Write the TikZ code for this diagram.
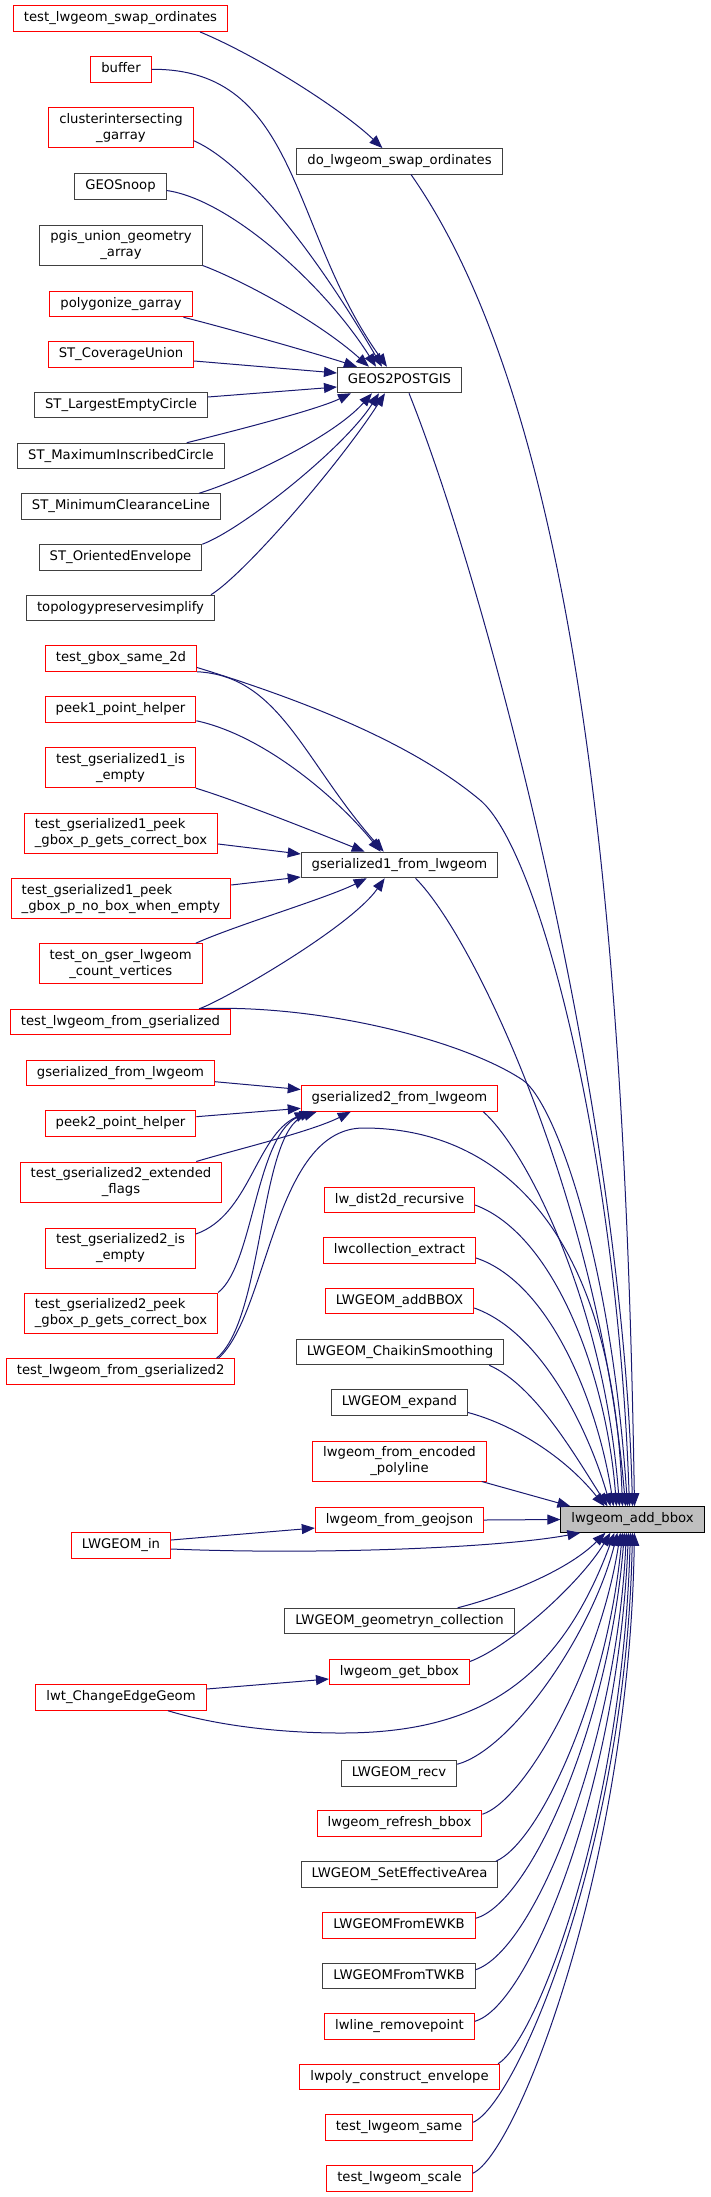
\documentclass[tikz,border=0pt]{standalone}
\usepackage{fontspec}
\setmainfont{DejaVu Sans}
\usepackage{tikz}
\usetikzlibrary{arrows.meta}
\definecolor{edgeblue}{HTML}{191970}
\definecolor{nodegrey}{HTML}{404040}
\definecolor{nodered}{HTML}{FF0000}
\definecolor{selgrey}{HTML}{BFBFBF}
\begin{document}
\begin{tikzpicture}[x=1pt,y=-1pt,>={Triangle[length=13pt,width=10pt]},
  fnbase/.style={draw=nodegrey,line width=1pt,fill=white,font=\fontsize{13.2}{15.7}\selectfont,inner xsep=10.5pt,inner ysep=5.5pt},
  fn/.style={fnbase,text height=9.5pt,text depth=3pt,inner ysep=6.5pt},
  fntwo/.style={fnbase,align=center,minimum height=40pt},
  fnleft/.style={fnbase,align=left,minimum height=40pt},
  trunc/.style={draw=nodered},
  call/.style={->,draw=edgeblue,fill=none,line width=1pt}]
  \useasboundingbox (0,0) rectangle (711,2197);

  \node[fn,trunc]     (tlso)           at (120.5,18.7)  {test\_lwgeom\_swap\_ordinates};
  \node[fn,trunc]     (buffer)         at (121,69.3)    {buffer};
  \node[fntwo,trunc]  (cluster)        at (121,127.7)   {clusterintersecting\\\_garray};
  \node[fn]           (geosnoop)       at (120.5,186.5) {GEOSnoop};
  \node[fntwo]        (pgis)           at (121,245)     {pgis\_union\_geometry\\\_array};
  \node[fn,trunc]     (polygonize)     at (121,304)     {polygonize\_garray};
  \node[fn,trunc]     (coverage)       at (121,354.5)   {ST\_CoverageUnion};
  \node[fn]           (largest)        at (121,405)     {ST\_LargestEmptyCircle};
  \node[fn]           (maxins)         at (121,456)     {ST\_MaximumInscribedCircle};
  \node[fn]           (minclear)       at (121,506.5)   {ST\_MinimumClearanceLine};
  \node[fn]           (oriented)       at (120.5,557.5) {ST\_OrientedEnvelope};
  \node[fn]           (topo)           at (120.5,608)   {topologypreservesimplify};
  \node[fn,trunc]     (gboxsame)       at (121,658.5)   {test\_gbox\_same\_2d};
  \node[fn,trunc]     (peek1)          at (120.5,709.5) {peek1\_point\_helper};
  \node[fntwo,trunc]  (gs1empty)       at (120.5,767.7) {test\_gserialized1\_is\\\_empty};
  \node[fnleft,trunc] (gs1peekcorrect) at (121,833)     {test\_gserialized1\_peek\\\_gbox\_p\_gets\_correct\_box};
  \node[fnleft,trunc] (nobox)          at (121,898.7)   {test\_gserialized1\_peek\\\_gbox\_p\_no\_box\_when\_empty};
  \node[fntwo,trunc]  (ongser)         at (120.7,963.7) {test\_on\_gser\_lwgeom\\\_count\_vertices};
  \node[fn,trunc]     (lwfromgs)       at (120.5,1022)  {test\_lwgeom\_from\_gserialized};
  \node[fn,trunc]     (gsfromlw)       at (120.5,1073)  {gserialized\_from\_lwgeom};
  \node[fn,trunc]     (peek2)          at (120.5,1123.5) {peek2\_point\_helper};
  \node[fntwo,trunc]  (gs2flags)       at (121,1182)    {test\_gserialized2\_extended\\\_flags};
  \node[fntwo,trunc]  (gs2empty)       at (120.5,1248)  {test\_gserialized2\_is\\\_empty};
  \node[fnleft,trunc] (gs2peek)        at (121,1313)    {test\_gserialized2\_peek\\\_gbox\_p\_gets\_correct\_box};
  \node[fn,trunc]     (lwfromgs2)      at (120.7,1371.5) {test\_lwgeom\_from\_gserialized2};
  \node[fn,trunc]     (lwgeomin)       at (121,1545.5)  {LWGEOM\_in};
  \node[fn,trunc]     (changeedge)     at (121,1697.5)  {lwt\_ChangeEdgeGeom};

  \node[fn]           (doswap)      at (399.5,161.3)  {do\_lwgeom\_swap\_ordinates};
  \node[fn]           (geos)        at (399.5,380)    {GEOS2POSTGIS};
  \node[fn]           (gs1from)     at (399.5,865)    {gserialized1\_from\_lwgeom};
  \node[fn,trunc]     (gs2from)     at (399.5,1098.5) {gserialized2\_from\_lwgeom};
  \node[fn,trunc]     (lwdist)      at (399.5,1200)   {lw\_dist2d\_recursive};
  \node[fn,trunc]     (lwcoll)      at (399.5,1250.5) {lwcollection\_extract};
  \node[fn,trunc]     (lwaddbbox)   at (399.5,1301)   {LWGEOM\_addBBOX};
  \node[fn]           (chaikin)     at (400,1352)     {LWGEOM\_ChaikinSmoothing};
  \node[fn]           (expand)      at (399.5,1402.5) {LWGEOM\_expand};
  \node[fntwo,trunc]  (encpoly)     at (399.5,1461)   {lwgeom\_from\_encoded\\\_polyline};
  \node[fn,trunc]     (geojson)     at (399.5,1520)   {lwgeom\_from\_geojson};
  \node[fn]           (geomn)       at (399.5,1621)   {LWGEOM\_geometryn\_collection};
  \node[fn,trunc]     (getbbox)     at (399.5,1672)   {lwgeom\_get\_bbox};
  \node[fn]           (recv)        at (399,1773.5)   {LWGEOM\_recv};
  \node[fn,trunc]     (refresh)     at (399.5,1823.5) {lwgeom\_refresh\_bbox};
  \node[fn]           (setarea)     at (399.5,1874.5) {LWGEOM\_SetEffectiveArea};
  \node[fn,trunc]     (ewkb)        at (399,1925.5)   {LWGEOMFromEWKB};
  \node[fn]           (twkb)        at (399,1976)     {LWGEOMFromTWKB};
  \node[fn,trunc]     (removepoint) at (399.5,2026.5) {lwline\_removepoint};
  \node[fn,trunc]     (polyenv)     at (399.5,2077)   {lwpoly\_construct\_envelope};
  \node[fn,trunc]     (same)        at (399,2127.5)   {test\_lwgeom\_same};
  \node[fn,trunc]     (scale)       at (399.5,2178.5) {test\_lwgeom\_scale};

  \node[fn,draw=black,fill=selgrey] (bbox) at (632.5,1519.5) {lwgeom\_add\_bbox};

  \draw[call] ([xshift=-28pt]tlso.south east) .. controls +(60,25) and +(-40,-38) .. ([xshift=86pt]doswap.north west);
  \draw[call] ([xshift=11.5pt]doswap.south) .. controls +(180,257) and +(-8,-500) .. ([xshift=2pt]bbox.north);
  \draw[call] (buffer.east) .. controls +(148,-1) and +(-98,-137) .. ([xshift=50pt]geos.north west);
  \draw[call] ([yshift=-13pt]cluster.east) .. controls +(50,22) and +(-70,-120) .. ([xshift=45pt]geos.north west);
  \draw[call] ([yshift=-4pt]geosnoop.east) .. controls +(64,9) and +(-50,-80) .. ([xshift=39pt]geos.north west);
  \draw[call] (pgis.south east) .. controls +(40,15) and +(-50,-45) .. ([xshift=32pt]geos.north west);
  \draw[call] ([xshift=-9pt]polygonize.south east) .. controls +(40,10) and +(-40,-13) .. ([xshift=20pt]geos.north west);
  \draw[call] ([yshift=-6.5pt]coverage.east) -- ([yshift=7pt]geos.west);
  \draw[call] ([yshift=8pt]largest.east) -- ([yshift=-7pt]geos.west);
  \draw[call] ([xshift=-38pt]maxins.north east) .. controls +(40,-10) and +(-35,17) .. ([xshift=14pt]geos.south west);
  \draw[call] ([xshift=-22pt]minclear.north east) .. controls +(40,-12) and +(-40,45) .. ([xshift=35pt]geos.south west);
  \draw[call] (oriented.north east) .. controls +(40,-15) and +(-35,55) .. ([xshift=42pt]geos.south west);
  \draw[call] ([xshift=-4pt]topo.north east) .. controls +(35,-22) and +(-45,70) .. ([xshift=48pt]geos.south west);
  \draw[call] ([xshift=9.5pt]geos.south) .. controls +(80,200) and +(-10,-400) .. (bbox.north);

  \draw[call] (gboxsame.south east) .. controls +(83,4) and +(-80,-90) .. ([xshift=83pt]gs1from.north west);
  \draw[call] ([yshift=-9pt]gboxsame.east) .. controls +(130,40) and +(-60,-50) .. (480,800) .. controls +(60,50) and +(-12,-350) .. ([xshift=-3pt]bbox.north);
  \draw[call] ([yshift=2pt]peek1.south east) .. controls +(70,15) and +(-40,-50) .. ([xshift=80pt]gs1from.north west);
  \draw[call] (gs1empty.south east) .. controls +(40,12) and +(-40,-16) .. ([xshift=64pt]gs1from.north west);
  \draw[call] ([yshift=-11pt]gs1peekcorrect.east) -- ([yshift=11pt]gs1from.west);
  \draw[call] ([yshift=13.7pt]nobox.east) -- ([yshift=-12pt]gs1from.west);
  \draw[call] ([xshift=-7pt]ongser.north east) .. controls +(40,-18) and +(-40,20) .. ([xshift=66pt]gs1from.south west);
  \draw[call] ([xshift=-32pt]lwfromgs.north east) .. controls +(20,-6) and +(-35,50) .. ([xshift=84pt]gs1from.south west);
  \draw[call] ([xshift=-32pt]lwfromgs.north east) .. controls +(120,-5) and +(-60,-40) .. (522.7,1080) .. controls +(30,20) and +(-17,-257) .. ([xshift=-5pt]bbox.north);
  \draw[call] ([xshift=16pt]gs1from.south) .. controls +(60,60) and +(-25,-300) .. ([xshift=-7pt]bbox.north);

  \draw[call] ([yshift=-8.7pt]gsfromlw.east) -- ([yshift=9pt]gs2from.west);
  \draw[call] ([yshift=6.8pt]peek2.east) -- ([yshift=-9.8pt]gs2from.west);
  \draw[call] ([xshift=-26pt]gs2flags.north east) .. controls +(40,-12) and +(-40,20) .. ([xshift=50pt]gs2from.south west);
  \draw[call] ([yshift=14pt]gs2empty.east) .. controls +(54,-19) and +(-52,24) .. ([xshift=7pt]gs2from.south west);
  \draw[call] (gs2peek.north east) .. controls +(36,-28) and +(-57,19) .. ([xshift=12pt]gs2from.south west);
  \draw[call] ([xshift=-19pt]lwfromgs2.north east) .. controls +(48,-39) and +(-58,19) .. ([xshift=16pt]gs2from.south west);
  \draw[call] ([xshift=-17pt]lwfromgs2.north east) .. controls +(50,-45) and +(-90,0) .. (363.6,1128) .. controls +(136,0) and +(-10,-277) .. ([xshift=-10pt]bbox.north);
  \draw[call] ([xshift=-15pt]gs2from.south east) .. controls +(45,40) and +(-15,-200) .. ([xshift=-13pt]bbox.north);

  \draw[call] ([yshift=-5pt]lwdist.east) .. controls +(80,30) and +(-10,-130) .. ([xshift=-16pt]bbox.north);
  \draw[call] ([yshift=-7.5pt]lwcoll.east) .. controls +(75,25) and +(-15,-100) .. ([xshift=-19pt]bbox.north);
  \draw[call] ([yshift=-7pt]lwaddbbox.east) .. controls +(70,25) and +(-20,-70) .. ([xshift=-22pt]bbox.north);
  \draw[call] ([xshift=-15pt]chaikin.south east) .. controls +(45,20) and +(-35,-55) .. ([xshift=-25pt]bbox.north);
  \draw[call] ([yshift=-10pt]expand.east) .. controls +(45,12) and +(-40,-50) .. ([xshift=-28pt]bbox.north);
  \draw[call] ([xshift=-5pt]encpoly.south east) -- ([xshift=10pt]bbox.north west);
  \draw[call] (geojson.east) -- (bbox.west);
  \draw[call] ([yshift=5.5pt]lwgeomin.east) -- ([yshift=-8pt]geojson.west);
  \draw[call] ([yshift=-3.5pt]lwgeomin.east) .. controls +(150,6) and +(-80,15) .. ([xshift=20pt]bbox.south west);

  \draw[call] ([xshift=-57pt]geomn.north east) .. controls +(40,-10) and +(-40,40) .. ([xshift=45pt]bbox.south west);
  \draw[call] ([yshift=-2.7pt]getbbox.north east) .. controls +(40,-15) and +(-30,50) .. ([xshift=50pt]bbox.south west);
  \draw[call] ([yshift=8.5pt]changeedge.east) -- ([yshift=-7pt]getbbox.west);
  \draw[call] ([xshift=47pt]changeedge.south) .. controls +(50,15) and +(-60,0) .. (341,1733) .. controls +(139,0) and +(-55,148) .. ([xshift=54pt]bbox.south west);
  \draw[call] ([yshift=-4pt]recv.north east) .. controls +(55,-15) and +(-25,100) .. ([xshift=57pt]bbox.south west);
  \draw[call] ([yshift=-4pt]refresh.north east) .. controls +(45,-15) and +(-20,130) .. ([xshift=60pt]bbox.south west);
  \draw[call] ([xshift=-2.5pt]setarea.north east) .. controls +(45,-20) and +(-15,160) .. ([xshift=62pt]bbox.south west);
  \draw[call] ([yshift=-6pt]ewkb.north east) .. controls +(55,-15) and +(-15,190) .. ([xshift=64pt]bbox.south west);
  \draw[call] ([yshift=-7pt]twkb.north east) .. controls +(60,-20) and +(-10,210) .. ([xshift=66pt]bbox.south west);
  \draw[call] ([yshift=-8pt]removepoint.north east) .. controls +(55,-15) and +(-10,250) .. ([xshift=68pt]bbox.south west);
  \draw[call] ([xshift=-1.5pt]polyenv.north east) .. controls +(40,-25) and +(-8,280) .. ([xshift=70pt]bbox.south west);
  \draw[call] ([yshift=-8pt]same.north east) .. controls +(45,-20) and +(-6,310) .. ([xshift=72pt]bbox.south west);
  \draw[call] ([yshift=-8pt]scale.north east) .. controls +(45,-20) and +(-5,330) .. ([xshift=74pt]bbox.south west);
\end{tikzpicture}
\end{document}
